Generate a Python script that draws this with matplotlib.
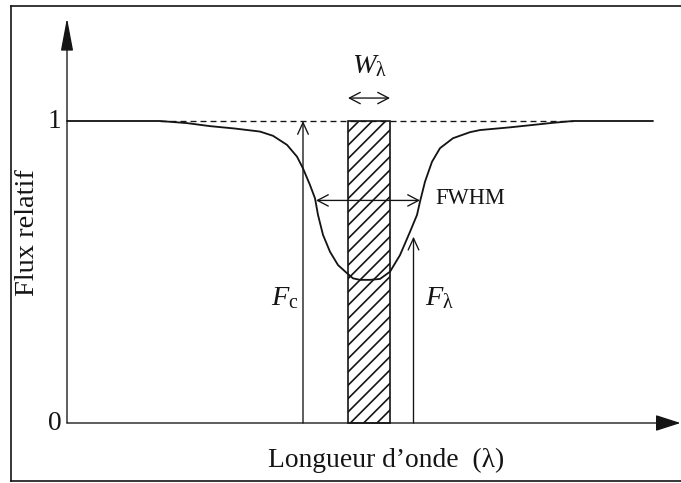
import matplotlib
matplotlib.use("Agg")
import matplotlib.pyplot as plt
from matplotlib.patches import FancyArrowPatch, Rectangle
from matplotlib.lines import Line2D

plt.rcParams['font.family'] = ['Liberation Serif', 'DejaVu Serif']
plt.rcParams['mathtext.fontset'] = 'custom'
plt.rcParams['mathtext.rm'] = 'Liberation Serif'
plt.rcParams['mathtext.it'] = 'Liberation Serif:italic'
plt.rcParams['hatch.linewidth'] = 1.0

# ---- data ----
wavelength = [0.0, 9.3, 12.0, 14.3, 16.8, 19.3, 20.6, 22.0, 23.0, 23.6, 24.3, 24.8, 25.1,
              25.6, 26.3, 27.1, 28.0, 28.6, 29.3, 30.3, 31.3, 32.3, 33.3, 34.3,
              35.0, 35.3, 35.8, 36.5, 37.3, 38.6, 40.3, 41.3, 44.3, 46.6, 48.6, 50.6, 58.6]
flux = [1.0, 1.0, 0.993, 0.983, 0.975, 0.965, 0.951, 0.921, 0.882, 0.843, 0.788, 0.744, 0.689,
        0.623, 0.567, 0.523, 0.496, 0.479, 0.474, 0.474, 0.477, 0.501, 0.556, 0.633,
        0.689, 0.733, 0.799, 0.865, 0.910, 0.943, 0.963, 0.970, 0.979, 0.987, 0.994, 1.0, 1.0]

continuum_level = 1.0
continuum_dash_range = [9.3, 50.6]
eqw_left, eqw_right = 28.1, 32.3          # equivalent width box (W_lambda)
fc_x = 23.6                                # F_c arrow position
flam_x, flam_y = 34.65, 0.617              # F_lambda arrow position / tip
fwhm_left, fwhm_right, fwhm_y = 24.9, 35.3, 0.737
y_ticks = [0, 1]
y_tick_labels = ['0', '1']

# ---- figure ----
W, H, DPI = 681, 483, 120
fig = plt.figure(figsize=(W / DPI, H / DPI), dpi=DPI, facecolor='white')
ax = fig.add_axes([0, 0, 1, 1])
ax.set_axis_off()
ax.set_xlim(-6.7, 61.4)
ax.set_ylim(-60 / 302, 423 / 302)

ink = '#141414'

# frame (left, top, bottom) of the scanned figure
for xs, ys in [([11 / W, 11 / W], [1 - 6 / H, 1 - 481 / H]),
               ([11 / W, 1.0], [1 - 6 / H, 1 - 6 / H]),
               ([11 / W, 1.0], [1 - 481 / H, 1 - 481 / H])]:
    fig.add_artist(Line2D(xs, ys, transform=fig.transFigure, color=ink, lw=1.0))

# axes arrows
ax.add_patch(FancyArrowPatch((0, 0), (0, 1.341), arrowstyle='-|>,head_length=17,head_width=3.2',
                             mutation_scale=1, color=ink, lw=0.8, shrinkA=0, shrinkB=0))
ax.add_patch(FancyArrowPatch((0, 0), (61.35, 0), arrowstyle='-|>,head_length=13,head_width=4.2',
                             mutation_scale=1, color=ink, lw=0.8, shrinkA=0, shrinkB=0))

# continuum dashed line
ax.plot(continuum_dash_range, [continuum_level] * 2, color=ink, lw=0.8,
        dashes=(4.5, 3))

# profile
ax.plot(wavelength, flux, color=ink, lw=1.1, solid_capstyle='round', solid_joinstyle='round')

# equivalent width hatched box
ax.add_patch(Rectangle((eqw_left, 0), eqw_right - eqw_left, continuum_level,
                       facecolor='none', edgecolor=ink, lw=1.0, hatch='///'))

open_head = '->,head_length=7,head_width=3.2'
dbl_head = '<->,head_length=6.5,head_width=3.4'
# F_c arrow
ax.add_patch(FancyArrowPatch((fc_x, 0), (fc_x, continuum_level), arrowstyle=open_head,
                             mutation_scale=1, color=ink, lw=0.8, shrinkA=0, shrinkB=0))
# F_lambda arrow
ax.add_patch(FancyArrowPatch((flam_x, 0), (flam_x, flam_y), arrowstyle=open_head,
                             mutation_scale=1, color=ink, lw=0.8, shrinkA=0, shrinkB=0))
# FWHM arrow
ax.add_patch(FancyArrowPatch((fwhm_left, fwhm_y), (fwhm_right, fwhm_y), arrowstyle=dbl_head,
                             mutation_scale=1, color=ink, lw=0.8, shrinkA=0, shrinkB=0))
# W_lambda arrow
ax.add_patch(FancyArrowPatch((eqw_left, 1.076), (eqw_right, 1.076), arrowstyle=dbl_head,
                             mutation_scale=1, color=ink, lw=0.8, shrinkA=0, shrinkB=0))

# texts
fs = 16.5
for yt, lab in zip(y_ticks, y_tick_labels):
    ax.text(-1.25, yt, lab, ha='center', va='center', fontsize=fs, color=ink)
ax.text(-3.95, 0.632, 'Flux relatif', rotation=90, ha='center', va='center',
        fontsize=17, color=ink)
ax.text(31.9, -0.1225, 'Longueur d\u2019onde  (\u03bb)', ha='center', va='center',
        fontsize=16.5, color=ink)
ax.text(30.3, 1.18, '$W_{\\mathrm{\u03bb}}$', ha='center', va='center', fontsize=17, color=ink)
ax.text(36.8, 0.745, 'FWHM', ha='left', va='center', fontsize=13.5, color=ink)
ax.text(21.8, 0.414, '$F_{\\mathrm{c}}$', ha='center', va='center', fontsize=17, color=ink)
ax.text(37.2, 0.414, '$F_{\\mathrm{\u03bb}}$', ha='center', va='center', fontsize=17, color=ink)

fig.savefig('out.png', dpi=DPI, facecolor='white')
